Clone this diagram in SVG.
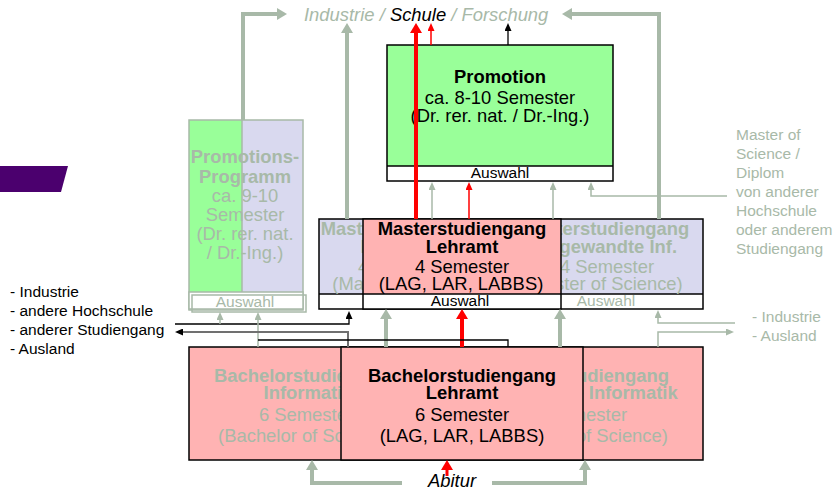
<svg xmlns="http://www.w3.org/2000/svg" width="837" height="494" viewBox="0 0 837 494">
<defs>
<style>
text{font-family:"Liberation Sans",Arial,sans-serif}
.big{font-size:18.4px}
.b{font-weight:bold}
.sm{font-size:15.5px}
.g{fill:#a8b9a8}
.k{fill:#000}
.c{text-anchor:middle}
.it{font-style:italic}
.box{stroke:#000;stroke-width:1.5}
.gbox{stroke:#a8b9a8;stroke-width:1.5}
.thk{fill:none;stroke:#a8b9a8;stroke-width:4}
.thkr{fill:none;stroke:#ff0000;stroke-width:4}
.thg{fill:none;stroke:#a8b9a8;stroke-width:1.5}
.thb{fill:none;stroke:#000;stroke-width:1.3}
.thr{fill:none;stroke:#ff0000;stroke-width:1.5}
.dg{fill:none;stroke:#707070;stroke-width:2}
</style>
<marker id="hg" viewBox="0 0 10 12" markerWidth="10" markerHeight="12" refX="3" refY="6" orient="auto" markerUnits="userSpaceOnUse"><path d="M0,0L10,6L0,12z" fill="#a8b9a8"/></marker>
<marker id="hr" viewBox="0 0 10 12" markerWidth="10" markerHeight="12" refX="3" refY="6" orient="auto" markerUnits="userSpaceOnUse"><path d="M0,0L10,6L0,12z" fill="#ff0000"/></marker>
<marker id="tg" viewBox="0 0 8 7" markerWidth="8" markerHeight="7" refX="2" refY="3.5" orient="auto" markerUnits="userSpaceOnUse"><path d="M0,0L8,3.5L0,7z" fill="#a8b9a8"/></marker>
<marker id="tb" viewBox="0 0 8 7" markerWidth="8" markerHeight="7" refX="2" refY="3.5" orient="auto" markerUnits="userSpaceOnUse"><path d="M0,0L8,3.5L0,7z" fill="#000"/></marker>
<marker id="tr" viewBox="0 0 8 7" markerWidth="8" markerHeight="7" refX="2" refY="3.5" orient="auto" markerUnits="userSpaceOnUse"><path d="M0,0L8,3.5L0,7z" fill="#ff0000"/></marker>
</defs>
<rect width="837" height="494" fill="#fff"/>

<g id="decor">
<polygon points="0,166 68,166 61,192 0,192" fill="#4b006e"/>
</g>

<g id="labels">
<text x="304" y="21" class="big it"><tspan class="g">Industrie / </tspan><tspan class="k">Schule</tspan><tspan class="g"> / Forschung</tspan></text>
<text class="sm k" x="10"><tspan x="10" y="297">- Industrie</tspan><tspan x="10" y="316">- andere Hochschule</tspan><tspan x="10" y="335">- anderer Studiengang</tspan><tspan x="10" y="354">- Ausland</tspan></text>
<text class="sm g" x="736"><tspan x="736" y="140">Master of</tspan><tspan x="736" y="159">Science /</tspan><tspan x="736" y="178">Diplom</tspan><tspan x="736" y="197">von anderer</tspan><tspan x="736" y="216">Hochschule</tspan><tspan x="736" y="235">oder anderem</tspan><tspan x="736" y="254">Studiengang</tspan></text>
<text class="sm g" x="752"><tspan x="752" y="322">- Industrie</tspan><tspan x="752" y="341">- Ausland</tspan></text>
<text x="452" y="487" class="big it k c">Abitur</text>
</g>

<g id="promotionsprogramm">
<rect x="189" y="120" width="53" height="173" fill="#99ff99"/>
<rect x="242" y="120" width="61" height="173" fill="#d9d9ef"/>
<line x1="242" y1="120" x2="242" y2="293" class="gbox"/>
<rect x="189" y="120" width="114" height="190" fill="none" class="gbox"/>
<rect x="189" y="292" width="114" height="17" fill="#fff" class="gbox"/>
<rect x="192" y="295" width="114" height="17" fill="none" class="gbox"/>
<text class="big g c"><tspan x="245" y="163" class="b">Promotions-</tspan><tspan x="245" y="183" class="b">Programm</tspan><tspan x="245" y="202">ca. 9-10</tspan><tspan x="245" y="221">Semester</tspan><tspan x="245" y="240">(Dr. rer. nat.</tspan><tspan x="245" y="259">/ Dr.-Ing.)</tspan></text>
<text x="245" y="307" class="sm g c">Auswahl</text>
</g>

<g id="promotion">
<rect x="387" y="45" width="226" height="121" fill="#99ff99"/>
<rect x="387" y="166" width="226" height="15" fill="#fff"/>
<rect x="387" y="45" width="226" height="136" fill="none" class="box"/>
<line x1="387" y1="166" x2="613" y2="166" class="box"/>
<text class="big k c"><tspan x="500" y="83" class="b">Promotion</tspan><tspan x="500" y="104">ca. 8-10 Semester</tspan><tspan x="500" y="122">(Dr. rer. nat. / Dr.-Ing.)</tspan></text>
<text x="500" y="178" class="sm k c">Auswahl</text>
</g>

<g id="master-informatik">
<rect x="319" y="219" width="384" height="75" fill="#d9d9ef"/>
<rect x="319" y="294" width="384" height="15" fill="#fff"/>
<rect x="319" y="219" width="384" height="90" fill="none" class="box"/>
<line x1="319" y1="294" x2="703" y2="294" class="box"/>
<text class="big g c"><tspan x="405" y="235" class="b">Masterstudiengang</tspan><tspan x="405" y="253" class="b">Informatik</tspan><tspan x="405" y="273">4 Semester</tspan><tspan x="412" y="290">(Master of Science)</tspan></text>
</g>
<g id="master-angewandte">
<text class="big g c"><tspan x="605" y="235" class="b">Masterstudiengang</tspan><tspan x="606" y="253" class="b">Angewandte Inf.</tspan><tspan x="607" y="273">4 Semester</tspan><tspan x="603" y="290">(Master of Science)</tspan></text>
<text x="606" y="306" class="sm g c">Auswahl</text>
</g>
<g id="master-lehramt">
<rect x="363" y="219" width="198" height="75" fill="#ffb3b3"/>
<rect x="363" y="294" width="198" height="15" fill="#fff"/>
<rect x="363" y="219" width="198" height="90" fill="none" class="box"/>
<line x1="363" y1="294" x2="561" y2="294" class="box"/>
<text class="big k c"><tspan x="462" y="235" class="b">Masterstudiengang</tspan><tspan x="462" y="253" class="b">Lehramt</tspan><tspan x="462" y="273">4 Semester</tspan><tspan x="461" y="290">(LAG, LAR, LABBS)</tspan></text>
<text x="460" y="306" class="sm k c">Auswahl</text>
</g>

<g id="bachelor-informatik">
<rect x="189" y="347" width="514" height="113" fill="#ffb3b3" class="box"/>
<text class="big g c"><tspan x="308" y="382" class="b">Bachelorstudiengang</tspan><tspan x="308" y="399" class="b">Informatik</tspan><tspan x="306" y="421">6 Semester</tspan><tspan x="306" y="442">(Bachelor of Science)</tspan></text>
</g>
<g id="bachelor-angewandte">
<text class="big g c"><tspan x="575" y="382" class="b">Bachelorstudiengang</tspan><tspan x="576" y="399" class="b">Angewandte Informatik</tspan><tspan x="580" y="421">6 Semester</tspan><tspan x="580" y="442">(Bachelor of Science)</tspan></text>
</g>
<g id="bachelor-lehramt">
<rect x="341" y="347" width="242" height="113" fill="#ffb3b3" class="box"/>
<text class="big k c"><tspan x="462" y="382" class="b">Bachelorstudiengang</tspan><tspan x="462" y="399" class="b">Lehramt</tspan><tspan x="462" y="421">6 Semester</tspan><tspan x="462" y="442">(LAG, LAR, LABBS)</tspan></text>
</g>

<g id="connectors">
<polyline points="243,120 243,14 280,14" class="thk" marker-end="url(#hg)"/>
<polyline points="347,219 347,30" class="thk" marker-end="url(#hg)"/>
<polyline points="659,219 659,14 569,14" class="thk" marker-end="url(#hg)"/>
<polyline points="416,219 416,30" class="thkr" marker-end="url(#hr)"/>
<polyline points="431,45 431,29" class="thr" marker-end="url(#tr)"/>
<polyline points="508,45 508,29" class="thb" marker-end="url(#tb)"/>
<polyline points="432,219 432,188" class="thg" marker-end="url(#tg)"/>
<polyline points="469,219 469,188" class="thr" marker-end="url(#tr)"/>
<polyline points="553,219 553,188" class="thg" marker-end="url(#tg)"/>
<polyline points="727,196 591,196 591,188" class="thg" marker-end="url(#tg)"/>
<polyline points="175,324 349,324 349,317" class="thb" marker-end="url(#tb)"/>
<polyline points="386,347 386,316" class="thk" marker-end="url(#hg)"/>
<polyline points="462,347 462,316" class="thkr" marker-end="url(#hr)"/>
<polyline points="560,347 560,316" class="thk" marker-end="url(#hg)"/>
<polyline points="735,323 658,323 658,316" class="thg" marker-end="url(#tg)"/>
<polyline points="220,324 220,318" class="thg" marker-end="url(#tg)"/>
<polyline points="258,347 258,318" class="thg" marker-end="url(#tg)"/>
<polyline points="348,347 348,332 181,332" class="dg" marker-end="url(#tb)"/>
<polyline points="508,347 508,340 258,340" class="thb"/>
<polyline points="658,347 658,332 728,332" class="thg" marker-end="url(#tg)"/>
<polyline points="402,483 312,483 312,467" class="thk" marker-end="url(#hg)"/>
<polyline points="492,483 585,483 585,467" class="thk" marker-end="url(#hg)"/>
<polyline points="447,476 447,467" fill="none" stroke="#ff0000" stroke-width="3" marker-end="url(#hr)"/>
</g>
</svg>
